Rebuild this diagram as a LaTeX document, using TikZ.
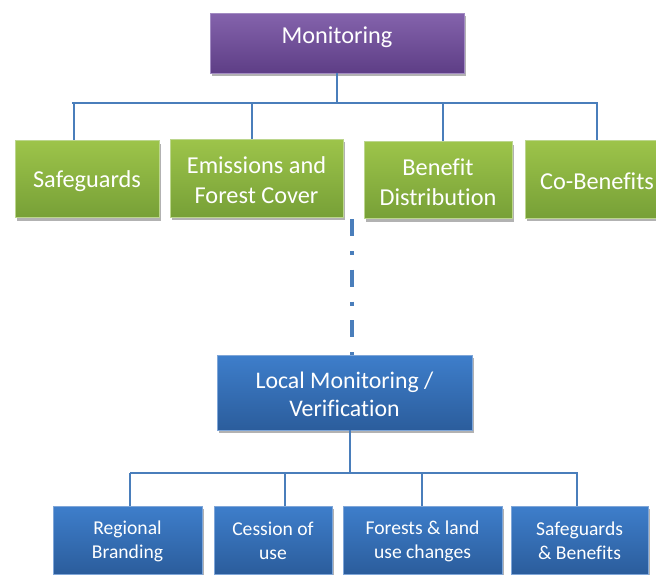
\documentclass[tikz,border=0pt]{standalone}
\usepackage{fontspec}
\setmainfont{Carlito}[Ligatures=CommonOff]
\usetikzlibrary{shadows}

\definecolor{purpleTop}{HTML}{8463AC}
\definecolor{purpleBot}{HTML}{5E3E86}
\definecolor{purpleEdge}{HTML}{A28BC2}
\definecolor{greenTop}{HTML}{9DC44A}
\definecolor{greenBot}{HTML}{77A037}
\definecolor{greenEdge}{HTML}{BCD68E}
\definecolor{blueTop}{HTML}{3E7ECB}
\definecolor{blueBot}{HTML}{2B5D9C}
\definecolor{blueEdge}{HTML}{7FA6D8}
\definecolor{linkBlue}{HTML}{4A7EBB}

\begin{document}
\begin{tikzpicture}[x=1pt,y=-1pt,
  basebox/.style={rectangle, inner sep=0pt, line width=0.8pt,
    drop shadow={shadow xshift=2pt, shadow yshift=-3pt, opacity=0.3, fill=black}},
  purplebox/.style={basebox, draw=purpleEdge, top color=purpleTop, bottom color=purpleBot},
  greenbox/.style={basebox, draw=greenEdge, top color=greenTop, bottom color=greenBot},
  bluebox/.style={basebox, draw=blueEdge, top color=blueTop, bottom color=blueBot},
  boxlbl/.style={text=white, inner sep=0pt, align=center},
  bigtext/.style={label={[boxlbl, yshift=-2.5pt, font=\fontsize{24.3}{30}\selectfont]center:{#1}}},
  midtext/.style={label={[boxlbl, yshift=-2pt, font=\fontsize{23.8}{28.5}\selectfont]center:{#1}}},
  smalltext/.style={label={[boxlbl, yshift=-1pt, font=\fontsize{19.6}{24}\selectfont]center:{#1}}},
  conn/.style={draw=linkBlue, line width=1.3pt},
  dotdash/.style={draw=linkBlue, line width=3.6pt, dash pattern=on 17pt off 15pt on 4pt off 14.5pt}
]
\useasboundingbox (0,0) rectangle (656,574);

% top level
\node[purplebox, minimum width=254pt, minimum height=60pt] (mon) at (337,43) {};
\node[boxlbl, font=\fontsize{24.3}{29}\selectfont] (monlbl) at (337,37.5) {Monitoring};

% second level
\node[greenbox, minimum width=144pt, minimum height=77pt, bigtext={Safeguards}] (sg) at (87,179) {};
\node[greenbox, minimum width=173pt, minimum height=78pt, bigtext={Emissions and\\Forest Cover}] (efc) at (256.5,178) {};
\node[greenbox, minimum width=148pt, minimum height=77pt, bigtext={Benefit\\Distribution}] (bd) at (438,180) {};
\node[greenbox, minimum width=144pt, minimum height=78pt, bigtext={Co-Benefits}] (cob) at (597,179) {};

% local level
\node[bluebox, minimum width=255pt, minimum height=75pt, midtext={Local Monitoring /\\Verification}] (loc) at (344.5,392.5) {};

% bottom level
\node[bluebox, minimum width=149pt, minimum height=68pt, smalltext={Regional\\Branding}] (rb) at (127.5,540) {};
\node[bluebox, minimum width=118pt, minimum height=68pt, smalltext={Cession of\\use}] (cu) at (273,540) {};
\node[bluebox, minimum width=159pt, minimum height=68pt, smalltext={Forests \& land\\use changes}] (flu) at (422.5,540) {};
\node[bluebox, minimum width=137pt, minimum height=68pt, smalltext={Safeguards\\\& Benefits}] (sgb) at (579.5,540) {};

% upper bus
\coordinate (busTL) at (72,103);
\coordinate (busTR) at (598,103);
\coordinate (tA) at (74,103);
\coordinate (tB) at (252,103);
\coordinate (tC) at (443,103);
\coordinate (tD) at (597,103);
\draw[conn] (mon.south) -- (mon.south |- busTL);
\draw[conn] (busTL) -- (busTR);
\draw[conn] (tA) -- (tA |- sg.north);
\draw[conn] (tB) -- (tB |- efc.north);
\draw[conn] (tC) -- (tC |- bd.north);
\draw[conn] (tD) -- (tD |- cob.north);

% dash-dot link to local level
\coordinate (dd) at (352,219);
\draw[dotdash] (dd) -- (dd |- loc.north);

% lower bus
\coordinate (locout) at (350,430);
\coordinate (busBL) at (130,473);
\coordinate (busBR) at (578,473);
\coordinate (bA) at (130,473);
\coordinate (bB) at (285,473);
\coordinate (bC) at (422,473);
\coordinate (bD) at (577,473);
\draw[conn] (locout) -- (locout |- busBL);
\draw[conn] (busBL) -- (busBR);
\draw[conn] (bA) -- (bA |- rb.north);
\draw[conn] (bB) -- (bB |- cu.north);
\draw[conn] (bC) -- (bC |- flu.north);
\draw[conn] (bD) -- (bD |- sgb.north);
\end{tikzpicture}
\end{document}
